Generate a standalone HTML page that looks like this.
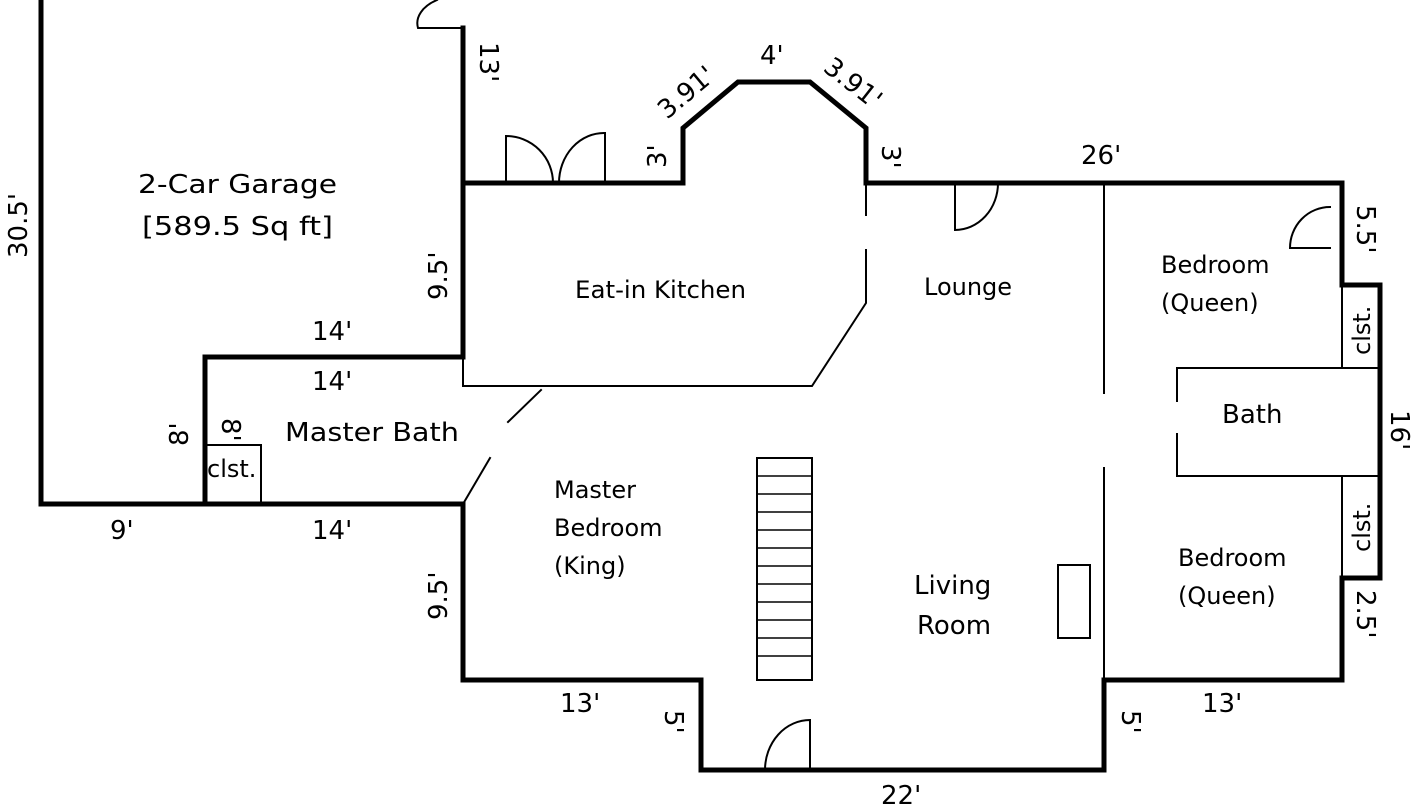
<!DOCTYPE html>
<html><head><meta charset="utf-8"><style>
html,body{margin:0;padding:0;background:#fff;}
svg{display:block;}
text{font-family:"DejaVu Sans","Liberation Sans",sans-serif;fill:#000;}
</style></head><body>
<svg width="1417" height="806" viewBox="0 0 1417 806" xmlns="http://www.w3.org/2000/svg">
<g stroke="#000" fill="none" stroke-linecap="square">
<g stroke-width="5">
<polyline points="41,0 41,504 205,504"/>
<polyline points="463,28 463,357 205,357 205,504 463,504 463,680 701,680 701,770 1104,770 1104,680 1342,680 1342,578 1380,578 1380,285 1342,285 1342,183 866,183 866,128 810,82 738,82 683,128 683,183 463,183"/>
</g>
<g stroke-width="2">
<polyline points="463,360 463,386 812,386 866,303 866,250"/>
<line x1="866" y1="183" x2="866" y2="215"/>
<line x1="508" y1="422" x2="541" y2="390"/>
<line x1="463" y1="504" x2="490" y2="458"/>
<line x1="1104" y1="183" x2="1104" y2="393"/>
<line x1="1104" y1="468" x2="1104" y2="680"/>
<polyline points="1177,401 1177,368 1380,368"/>
<polyline points="1177,434 1177,476 1380,476"/>
<line x1="1342" y1="285" x2="1342" y2="368"/>
<line x1="1342" y1="476" x2="1342" y2="578"/>
<polyline points="205,445 261,445 261,504"/>
<path d="M463,28 L418,28 A45,28 0 0 1 437,0"/>
<path d="M506,183 L506,136 A47,47 0 0 1 553,183"/>
<path d="M605,183 L605,133 A45,50 0 0 0 559,183"/>
<path d="M955,183 L955,230 A43,47 0 0 0 998,183"/>
<path d="M1330,248 L1290,248 A40,41 0 0 1 1330,207"/>
<path d="M810,770 L810,720 A45,50 0 0 0 765,770"/>
<rect x="757" y="458" width="55" height="222"/>
<rect x="1058" y="565" width="32" height="73"/>
</g>
</g>
<g stroke="#000" stroke-width="1.5">
<line x1="757" y1="476" x2="812" y2="476"/><line x1="757" y1="494" x2="812" y2="494"/>
<line x1="757" y1="512" x2="812" y2="512"/><line x1="757" y1="530" x2="812" y2="530"/>
<line x1="757" y1="548" x2="812" y2="548"/><line x1="757" y1="566" x2="812" y2="566"/>
<line x1="757" y1="584" x2="812" y2="584"/><line x1="757" y1="602" x2="812" y2="602"/>
<line x1="757" y1="620" x2="812" y2="620"/><line x1="757" y1="638" x2="812" y2="638"/>
<line x1="757" y1="656" x2="812" y2="656"/>
</g>
<g font-size="24">
<text x="138" y="193" font-size="26" textLength="199" lengthAdjust="spacingAndGlyphs">2-Car Garage</text>
<text x="142" y="235" font-size="26" textLength="191" lengthAdjust="spacingAndGlyphs">[589.5 Sq ft]</text>
<text x="575" y="298" textLength="171" lengthAdjust="spacingAndGlyphs">Eat-in Kitchen</text>
<text x="924" y="295">Lounge</text>
<text x="1161" y="273">Bedroom</text>
<text x="1161" y="311">(Queen)</text>
<text x="1222" y="423" font-size="26">Bath</text>
<text x="1178" y="566">Bedroom</text>
<text x="1178" y="604">(Queen)</text>
<text x="285" y="441" font-size="26" textLength="174" lengthAdjust="spacingAndGlyphs">Master Bath</text>
<text x="554" y="498">Master</text>
<text x="554" y="536">Bedroom</text>
<text x="554" y="574">(King)</text>
<text x="914" y="594" font-size="26">Living</text>
<text x="917" y="634" font-size="26">Room</text>
<text x="207" y="477">clst.</text>
</g>
<g font-size="26">
<text x="312" y="340">14'</text>
<text x="312" y="390">14'</text>
<text x="312" y="539">14'</text>
<text x="110" y="539">9'</text>
<text x="560" y="712">13'</text>
<text x="1202" y="712">13'</text>
<text x="881" y="804">22'</text>
<text x="1081" y="164">26'</text>
<text x="760" y="64">4'</text>
<text transform="translate(667,120) rotate(-40)">3.91'</text>
<text transform="translate(822,70) rotate(38)">3.91'</text>
<text transform="translate(27,258) rotate(-90)">30.5'</text>
<text transform="translate(447,300) rotate(-90)">9.5'</text>
<text transform="translate(447,620) rotate(-90)">9.5'</text>
<text transform="translate(188,446) rotate(-90)">8'</text>
<text transform="translate(222,418) rotate(90)">8'</text>
<text transform="translate(666,168) rotate(-90)">3'</text>
<text transform="translate(480,42) rotate(90)">13'</text>
<text transform="translate(882,145) rotate(90)">3'</text>
<text transform="translate(1357,205) rotate(90)">5.5'</text>
<text transform="translate(1391,410) rotate(90)">16'</text>
<text transform="translate(1370,355) rotate(-90)" font-size="24">clst.</text>
<text transform="translate(1370,552) rotate(-90)" font-size="24">clst.</text>
<text transform="translate(1357,590) rotate(90)">2.5'</text>
<text transform="translate(665,710) rotate(90)">5'</text>
<text transform="translate(1122,710) rotate(90)">5'</text>
</g>
</svg>
</body></html>
